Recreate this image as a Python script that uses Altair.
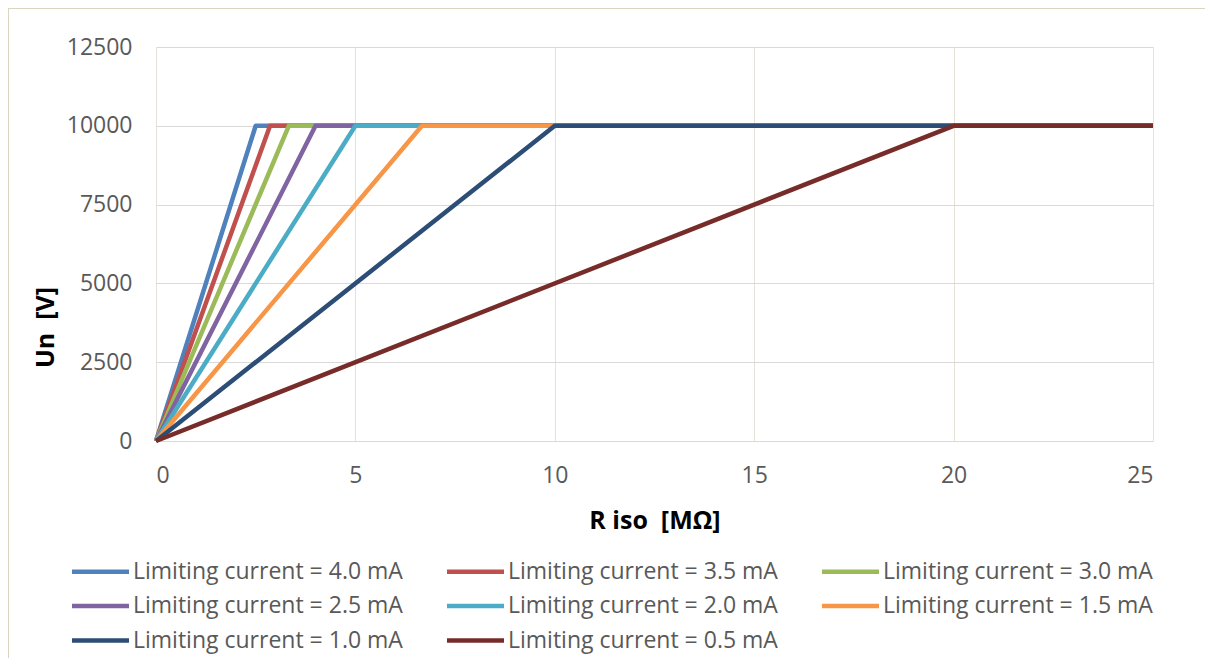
import altair as alt
import pandas as pd

# Series definitions
labels = [
    "Limiting current = 4.0 mA",
    "Limiting current = 3.5 mA",
    "Limiting current = 3.0 mA",
    "Limiting current = 2.5 mA",
    "Limiting current = 2.0 mA",
    "Limiting current = 1.5 mA",
    "Limiting current = 1.0 mA",
    "Limiting current = 0.5 mA",
]
colors = ["#4F81BD", "#C0504D", "#9BBB59", "#8064A2", "#4BACC6", "#F79646", "#2C4D75", "#772C2A"]
knee_r = [2.5, 2.86, 3.33, 4.0, 5.0, 6.67, 10.0, 20.0]   # MΩ where the 10 kV limit is reached
r_start = 0
r_end = 25
u_start = 0
u_max = 10000

x_ticks = [0, 5, 10, 15, 20, 25]
y_ticks = [0, 2500, 5000, 7500, 10000, 12500]

rows = []
for i, (lab, kr) in enumerate(zip(labels, knee_r)):
    rows.append({"series": lab, "ord": i, "step": 0, "r": r_start, "u": u_start})
    rows.append({"series": lab, "ord": i, "step": 1, "r": kr, "u": u_max})
    rows.append({"series": lab, "ord": i, "step": 2, "r": r_end, "u": u_max})
df = pd.DataFrame(rows)

FONT = "Open Sans"

lines = alt.Chart(df).mark_line(strokeWidth=4.5, strokeJoin="round").encode(
    x=alt.X("r:Q", scale=alt.Scale(domain=[0, 25], nice=False),
            axis=alt.Axis(values=x_ticks, format="d", title="R iso\u00a0 [MΩ]", gridColor="#e6e2d8",
                          titleY=79, titleBaseline="middle")),
    y=alt.Y("u:Q", scale=alt.Scale(domain=[0, 12500], nice=False),
            axis=alt.Axis(values=y_ticks, format="d", title="Un\u00a0 [V]", gridColor="#d9d9d9",
                          titleX=-111, titleY=280, titleBaseline="middle")),
    color=alt.Color("series:N", scale=alt.Scale(domain=labels, range=colors),
                    legend=alt.Legend(title=None, orient="none", legendX=-72, legendY=508,
                                      direction="horizontal",
                                      columns=3, symbolType="M-2,0H2", symbolSize=812,
                                      symbolStrokeWidth=4.5, columnPadding=35, rowPadding=5.5,
                                      labelFont=FONT, labelFontSize=23, labelColor="#595959",
                                      labelOffset=16, gridAlign="all", labelLimit=400)),
    order=alt.Order("step:Q"),
    detail="ord:N",
)

frame_left = alt.Chart(pd.DataFrame({"k": [0]})).mark_rule(color="#d8d6bf", strokeWidth=1).encode(
    x=alt.value(-147.5), y=alt.value(-39), y2=alt.value(620))
frame_top = alt.Chart(pd.DataFrame({"k": [0]})).mark_rule(color="#d8d6bf", strokeWidth=1).encode(
    x=alt.value(-148), x2=alt.value(1060), y=alt.value(-38.5))

chart = alt.layer(frame_left, frame_top, lines).properties(
    width=997, height=394,
    autosize=alt.AutoSizeParams(type="none"),
    padding={"left": 148, "top": 39, "right": 52, "bottom": 217},
).configure_view(strokeWidth=0).configure_axis(
    domain=False, ticks=False, grid=True,
    labelFont=FONT, labelFontSize=23, labelColor="#595959",
    titleFont=FONT, titleFontSize=25, titleFontWeight="bold", titleColor="#000000",
).configure_axisX(labelPadding=23).configure_axisY(labelPadding=24)

chart.save("out.html", embed_options={"renderer": "svg", "actions": False})
